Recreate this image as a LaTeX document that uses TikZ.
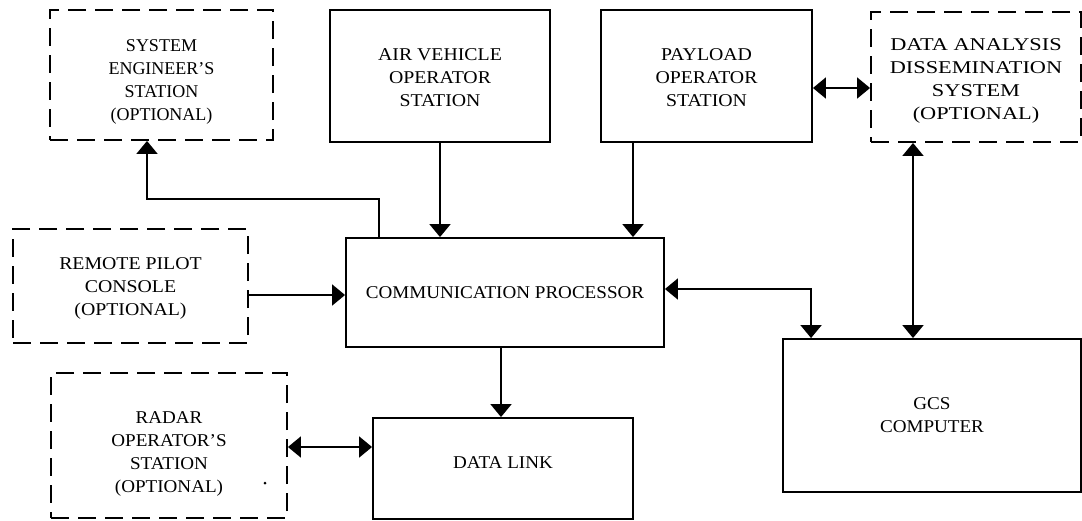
\documentclass[tikz,border=0pt]{standalone}
\usepackage{fontspec}
\setmainfont{Liberation Serif}
\newfontfamily\fonta[Ligatures=TeX,FakeStretch=1.06]{Liberation Serif}
\newfontfamily\fontb[Ligatures=TeX,FakeStretch=1.1]{Liberation Serif}
\newfontfamily\fontc[Ligatures=TeX,FakeStretch=1.24]{Liberation Serif}
\usetikzlibrary{arrows.meta}
\tikzset{
  box/.style={draw, line width=1.9pt, inner sep=0pt},
  optbox/.style={box, dash pattern=on 18pt off 9pt},
  txt/.style={align=center, inner sep=0pt},
  tse/.style={txt, font=\fontsize{18}{23}\selectfont},
  tst/.style={txt, font=\fontsize{18}{23}\selectfont\fontb},
  tdd/.style={txt, font=\fontsize{18}{23}\selectfont\fontc},
  tgn/.style={txt, font=\fontsize{18}{23}\selectfont\fonta},
  conn/.style={line width=1.9pt},
  tip/.tip={Triangle[length=13pt,width=21pt]},
  oneway/.style={conn, -tip},
  twoway/.style={conn, tip-tip},
}
\begin{document}
\begin{tikzpicture}[x=1pt,y=-1pt]
\useasboundingbox (0,0) rectangle (1082,520);
% boxes
\node[optbox, minimum width=223pt, minimum height=130pt] (se) at (161.5,75) {};
\node[box, minimum width=220pt, minimum height=132pt] (av) at (440,76) {};
\node[box, minimum width=211pt, minimum height=132pt] (pl) at (706.5,76) {};
\node[optbox, minimum width=210pt, minimum height=130pt] (dads) at (976,77) {};
\node[optbox, minimum width=235pt, minimum height=114pt] (rp) at (130.5,286) {};
\node[box, minimum width=318pt, minimum height=109pt] (cp) at (505,292.5) {};
\node[box, minimum width=298pt, minimum height=153pt] (gcs) at (932,415.5) {};
\node[optbox, minimum width=236pt, minimum height=145pt] (ro) at (169,445.5) {};
\node[box, minimum width=260pt, minimum height=101pt] (dl) at (503,468.5) {};
% texts
\node[tse] (se-t) at ([yshift=-7pt]se.center) {SYSTEM\\ENGINEER'S\\STATION\\(OPTIONAL)};
\node[tst] (av-t) at ([yshift=-1.5pt]av.center) {AIR VEHICLE\\OPERATOR\\STATION};
\node[tst] (pl-t) at ([yshift=-1.5pt]pl.center) {PAYLOAD\\OPERATOR\\STATION};
\node[tdd] (dads-t) at ([yshift=-3.5pt]dads.center) {DATA ANALYSIS\\DISSEMINATION\\SYSTEM\\(OPTIONAL)};
\node[tst] (rp-t) at ([yshift=-2.5pt]rp.center) {REMOTE PILOT\\CONSOLE\\(OPTIONAL)};
\node[tgn] (cp-t) at (cp.center) {COMMUNICATION PROCESSOR};
\node[tgn] (gcs-t) at (gcs.center) {GCS\\COMPUTER};
\node[tgn] (ro-t) at ([yshift=-8.5pt]ro.center) {RADAR\\OPERATOR'S\\STATION\\(OPTIONAL)};
\node[tgn] (dl-t) at ([yshift=5.5pt]dl.center) {DATA LINK};
\fill (265,483) circle (1.5pt);
% connectors
\draw[oneway] ([xshift=34pt]cp.north west) -- ++(0,38pt) -| ([xshift=-14.5pt]se.south);
\draw[oneway] (av.south) -- (av.south |- cp.north);
\draw[oneway] ([xshift=-73.5pt]pl.south) -- ([xshift=-73.5pt]pl.south |- cp.north);
\draw[twoway] ([yshift=-12pt]pl.east) -- ([yshift=-12pt]pl.east -| dads.west);
\draw[twoway] ([xshift=-63pt]dads.south) -- ([xshift=-63pt]dads.south |- gcs.north);
\draw[twoway] ([yshift=3.5pt]cp.east) -| ([xshift=29pt]gcs.north west);
\draw[oneway] ([yshift=-9pt]rp.east) -- ([yshift=-9pt]rp.east -| cp.west);
\draw[oneway] ([xshift=-4pt]cp.south) -- ([xshift=-4pt]cp.south |- dl.north);
\draw[twoway] ([yshift=-1.5pt]ro.east) -- ([yshift=-1.5pt]ro.east -| dl.west);
\end{tikzpicture}
\end{document}
